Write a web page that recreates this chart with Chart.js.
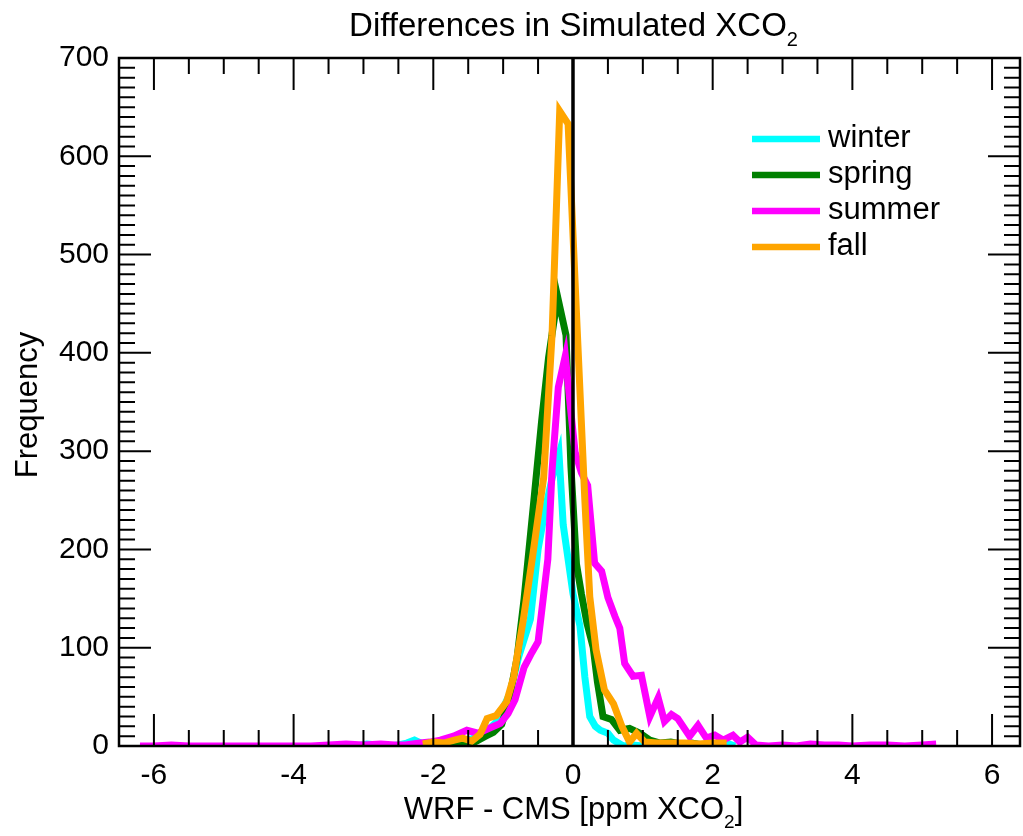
<!DOCTYPE html>
<html>
<head>
<meta charset="utf-8">
<title>Differences in Simulated XCO2</title>
<script src="https://cdn.jsdelivr.net/npm/chart.js@4.4.1/dist/chart.umd.min.js"></script>
<style>
  html, body { margin: 0; padding: 0; background: #fff; }
</style>
</head>
<body>
<canvas id="histChart" width="1023" height="836"></canvas>
<script>
// Histogram bin centres (ppm XCO2) and frequencies
const winterBins = [-3.40, -3.25, -3.10, -2.95, -2.80, -2.65, -2.50, -2.38, -2.27, -2.15, -2.00, -1.85, -1.70, -1.55, -1.42, -1.30, -1.19, -1.09, -0.90, -0.78, -0.61, -0.50, -0.40, -0.30, -0.20, -0.14, 0.00, 0.10, 0.17, 0.24, 0.32, 0.39, 0.50, 0.58, 0.72, 0.85, 1.00, 1.15, 1.30, 1.45, 1.60, 1.75, 1.90, 2.05, 2.20, 2.32];
const winterCounts = [0, 1, 0, 2, 1, 0, 1, 3, 6, 2, 1, 2, 3, 5, 8, 14, 18, 25, 54, 90, 129, 200, 240, 272, 297, 225, 155, 122, 70, 30, 20, 16, 13, 6, 0, 1, 0, 1, 2, 0, 1, 0, 1, 0, 3, 0];

const springBins = [-1.90, -1.75, -1.60, -1.50, -1.38, -1.25, -1.14, -1.02, -0.92, -0.80, -0.70, -0.56, -0.45, -0.35, -0.22, -0.10, -0.03, 0.05, 0.12, 0.20, 0.29, 0.35, 0.43, 0.55, 0.67, 0.81, 0.96, 1.10, 1.25, 1.40, 1.55, 1.70, 1.85, 2.00];
const springCounts = [0, 2, 1, 1, 5, 10, 14, 22, 45, 90, 150, 250, 330, 395, 457, 418, 285, 185, 155, 125, 100, 65, 30, 27, 16, 18, 13, 6, 3, 4, 2, 3, 1, 0];

const summerBins = [-6.20, -6.00, -5.75, -5.50, -5.25, -5.00, -4.75, -4.50, -4.25, -4.00, -3.75, -3.50, -3.25, -3.00, -2.75, -2.55, -2.40, -2.19, -2.05, -1.90, -1.71, -1.52, -1.36, -1.20, -1.04, -0.93, -0.83, -0.70, -0.59, -0.50, -0.36, -0.30, -0.21, -0.11, -0.03, 0.03, 0.12, 0.21, 0.31, 0.41, 0.50, 0.60, 0.67, 0.74, 0.86, 0.98, 1.10, 1.22, 1.31, 1.41, 1.50, 1.67, 1.79, 1.91, 2.03, 2.15, 2.29, 2.39, 2.50, 2.62, 2.80, 3.00, 3.20, 3.40, 3.60, 3.80, 4.00, 4.25, 4.50, 4.75, 5.00, 5.20];
const summerCounts = [0, 0, 1, 0, 0, 0, 0, 0, 0, 0, 0, 1, 2, 1, 2, 1, 1, 3, 4, 6, 10, 16, 13, 18, 23, 33, 47, 80, 95, 106, 190, 280, 365, 397, 340, 299, 278, 265, 186, 178, 151, 132, 120, 84, 71, 72, 30, 49, 25, 32, 28, 10, 21, 8, 11, 6, 11, 4, 9, 1, 0, 1, 0, 2, 1, 1, 0, 1, 1, 0, 1, 2];

const fallBins = [-2.15, -2.00, -1.85, -1.70, -1.58, -1.45, -1.33, -1.23, -1.10, -0.95, -0.85, -0.71, -0.58, -0.42, -0.30, -0.19, -0.07, 0.05, 0.17, 0.24, 0.33, 0.45, 0.58, 0.70, 0.81, 0.91, 1.03, 1.20, 1.40, 1.60, 1.80, 2.00, 2.20];
const fallCounts = [2, 4, 3, 6, 8, 5, 12, 28, 31, 45, 70, 129, 192, 273, 418, 646, 633, 440, 250, 152, 98, 57, 43, 20, 4, 13, 4, 3, 3, 3, 2, 3, 3];

const seasonNames = ['winter', 'spring', 'summer', 'fall'];
const seasonColors = ['#00ffff', '#008000', '#ff00ff', '#ffa500'];

const xTickValues = [-6, -4, -2, 0, 2, 4, 6];
const yTickValues = [0, 100, 200, 300, 400, 500, 600, 700];

const FONT = "'Liberation Sans', Arial, Helvetica, sans-serif";

function toPoints(bins, counts) {
  return bins.map((b, i) => ({ x: b, y: counts[i] }));
}

const seriesBins = [winterBins, springBins, summerBins, fallBins];
const seriesCounts = [winterCounts, springCounts, summerCounts, fallCounts];

const datasets = seasonNames.map((name, i) => ({
  label: name,
  data: toPoints(seriesBins[i], seriesCounts[i]),
  borderColor: seasonColors[i],
  backgroundColor: seasonColors[i],
  borderWidth: 7,
  pointRadius: 0,
  tension: 0,
  fill: false,
  order: 4 - i, // later seasons drawn on top
}));

// text with a lowered small "2" (XCO2)
function drawParts(ctx, parts, x, y, size) {
  const subSize = Math.round(size * 0.62);
  let total = 0;
  parts.forEach((p) => {
    ctx.font = (p.sub ? subSize : size) + 'px ' + FONT;
    p.w = ctx.measureText(p.t).width;
    total += p.w;
  });
  let cx = x - total / 2;
  parts.forEach((p) => {
    ctx.font = (p.sub ? subSize : size) + 'px ' + FONT;
    ctx.fillText(p.t, cx, p.sub ? y + size * 0.3 : y);
    cx += p.w;
  });
}

// IDL style box axes, inward ticks, zero line
const idlAxes = {
  id: 'idlAxes',
  afterDatasetsDraw(chart) {
    const { ctx, chartArea: a, scales: { x, y } } = chart;
    ctx.save();
    ctx.strokeStyle = '#000';

    const x0 = x.getPixelForValue(0);
    ctx.lineWidth = 3.5;
    ctx.beginPath();
    ctx.moveTo(x0, a.top);
    ctx.lineTo(x0, a.bottom);
    ctx.stroke();

    ctx.lineWidth = 2.5;
    ctx.strokeRect(a.left, a.top, a.right - a.left, a.bottom - a.top);

    ctx.lineWidth = 2;
    ctx.beginPath();
    for (let k = -12; k <= 12; k++) {
      const px = x.getPixelForValue(k / 2);
      const len = k % 4 === 0 ? 32 : 16;
      ctx.moveTo(px, a.bottom);
      ctx.lineTo(px, a.bottom - len);
      ctx.moveTo(px, a.top);
      ctx.lineTo(px, a.top + len);
    }
    for (let v = 10; v < 700; v += 10) {
      const py = y.getPixelForValue(v);
      const len = v % 100 === 0 ? 32 : 16;
      ctx.moveTo(a.left, py);
      ctx.lineTo(a.left + len, py);
      ctx.moveTo(a.right, py);
      ctx.lineTo(a.right - len, py);
    }
    ctx.stroke();
    ctx.restore();
  },
  afterDraw(chart) {
    const { ctx, chartArea: a } = chart;
    const midX = (a.left + a.right) / 2 + 4;
    ctx.save();
    ctx.fillStyle = '#000';
    ctx.textBaseline = 'alphabetic';
    ctx.textAlign = 'left';

    drawParts(ctx, [{ t: 'Differences in Simulated XCO' }, { t: '2', sub: true }], midX, 36, 33);
    drawParts(ctx, [{ t: 'WRF - CMS [ppm XCO' }, { t: '2', sub: true }, { t: ']' }], midX, 819, 31);

    ctx.save();
    ctx.translate(37, (a.top + a.bottom) / 2 + 3);
    ctx.rotate(-Math.PI / 2);
    ctx.textAlign = 'center';
    ctx.font = '31px ' + FONT;
    ctx.fillText('Frequency', 0, 0);
    ctx.restore();

    // legend
    chart.data.datasets.forEach((ds, i) => {
      const ly = 139 + i * 36;
      ctx.strokeStyle = ds.borderColor;
      ctx.lineWidth = 6.5;
      ctx.beginPath();
      ctx.moveTo(752, ly);
      ctx.lineTo(820, ly);
      ctx.stroke();
      ctx.font = '31px ' + FONT;
      ctx.fillText(ds.label, 828, ly + 8);
    });
    ctx.restore();
  },
};

const ctx = document.getElementById('histChart').getContext('2d');
const chart = new Chart(ctx, {
  type: 'line',
  data: { datasets: datasets },
  options: {
    responsive: false,
    animation: false,
    devicePixelRatio: 1,
    layout: { padding: { top: 58, right: 3, left: 0, bottom: 0 } },
    plugins: {
      legend: { display: false },
      title: { display: false },
      tooltip: { enabled: false },
    },
    scales: {
      x: {
        type: 'linear',
        min: -6.5,
        max: 6.4,
        grid: { display: false, drawTicks: false },
        border: { display: false },
        afterBuildTicks: (s) => { s.ticks = xTickValues.map((v) => ({ value: v })); },
        afterFit: (s) => { s.height = 90; },
        ticks: { color: '#000', font: { family: FONT, size: 30 }, padding: 12, maxRotation: 0 },
      },
      y: {
        type: 'linear',
        min: 0,
        max: 700,
        grid: { display: false, drawTicks: false },
        border: { display: false },
        afterBuildTicks: (s) => { s.ticks = yTickValues.map((v) => ({ value: v })); },
        afterFit: (s) => { s.width = 119; },
        ticks: { color: '#000', font: { family: FONT, size: 30 }, padding: 10 },
      },
    },
  },
  plugins: [idlAxes],
});
</script>
</body>
</html>
